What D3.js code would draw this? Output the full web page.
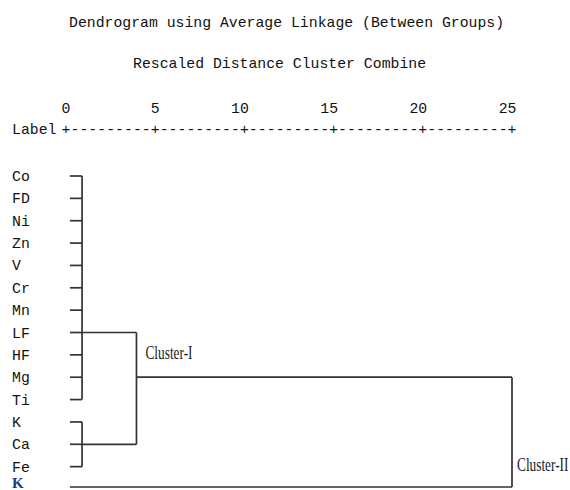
<!DOCTYPE html>
<html>
<head>
<meta charset="utf-8">
<script src="https://cdn.jsdelivr.net/npm/d3@7"></script>
<style>
  html, body { margin: 0; padding: 0; background: #fff; }
  svg { display: block; }
  .mono { font-family: "Liberation Mono", "Courier New", monospace; font-size: 14.8px; fill: #111; }
  .serif { font-family: "Liberation Serif", "Times New Roman", serif; }
</style>
</head>
<body>
<svg id="chart" width="570" height="490"></svg>
<script>
// ---- data ----
const title = "Dendrogram using Average Linkage (Between Groups)";
const subtitle = "Rescaled Distance Cluster Combine";
const leafLabels = ["Co","FD","Ni","Zn","V","Cr","Mn","LF","HF","Mg","Ti","K","Ca","Fe"];
const extraLeaf = "K";                 // last (highlighted) leaf, row 14
const tickValues = [0, 5, 10, 15, 20, 25];
const leafStart = 0.22;                // where leaf stubs begin (rescaled distance)
// clusters: member rows, merge distance, row where the output line leaves
const groupAMembers = [0,1,2,3,4,5,6,7,8,9,10];
const groupBMembers = [11,12,13];
const mergeDistA = 0.9, outRowA = 7;
const mergeDistB = 0.9, outRowB = 12;
const mergeDistAB = 3.95, outRowAB = 9;
const mergeDistFinal = 25, extraRow = 14;
const clusterLabels = ["Cluster-I", "Cluster-II"];

// ---- scales ----
const svg = d3.select("#chart");
svg.append("rect").attr("width", 570).attr("height", 490).attr("fill", "#fff");
const x = d3.scaleLinear().domain([0, 25]).range([66, 512]);
const y = d3.scaleLinear().domain([0, 14]).range([176, 489]);
const charW = (x(25) - x(0)) / 50;

// ---- titles ----
svg.append("text").attr("class", "mono").attr("x", 69).attr("y", 27).text(title);
svg.append("text").attr("class", "mono").attr("x", 133).attr("y", 68).text(subtitle);

// ---- textual axis ----
svg.selectAll("text.tick").data(tickValues).join("text")
  .attr("class", "mono tick")
  .attr("text-anchor", "end")
  .attr("x", d => x(d) + charW / 2)
  .attr("y", 113)
  .text(d => d);
svg.append("text").attr("class", "mono").attr("x", 12).attr("y", 134).text("Label");
const axisChars = [];
for (let v = 0; v <= 25; v += 0.5) axisChars.push({ v, c: (v % 5 === 0) ? "+" : "-" });
svg.selectAll("text.axc").data(axisChars).join("text")
  .attr("class", "mono axc")
  .attr("text-anchor", "middle")
  .attr("x", d => x(d.v))
  .attr("y", 134)
  .text(d => d.c);

// ---- leaf labels ----
svg.selectAll("text.leaf").data(leafLabels).join("text")
  .attr("class", "mono leaf")
  .attr("x", 12)
  .attr("y", (d, i) => y(i) + 5)
  .text(d => d);
svg.append("text").attr("class", "serif")
  .attr("x", 12).attr("y", y(extraRow) - 1)
  .attr("font-size", 15).attr("font-weight", "bold").attr("fill", "#1d3b87")
  .text(extraLeaf);

// ---- tree lines ----
const g = svg.append("g").attr("stroke", "#333").attr("stroke-width", 1.7).attr("fill", "none");
function seg(x1, y1, x2, y2) {
  g.append("line").attr("x1", x1).attr("y1", y1).attr("x2", x2).attr("y2", y2);
}
// leaf stubs
groupAMembers.forEach(i => seg(x(leafStart), y(i), x(mergeDistA), y(i)));
groupBMembers.forEach(i => seg(x(leafStart), y(i), x(mergeDistB), y(i)));
// group verticals
seg(x(mergeDistA), y(d3.min(groupAMembers)), x(mergeDistA), y(d3.max(groupAMembers)));
seg(x(mergeDistB), y(d3.min(groupBMembers)), x(mergeDistB), y(d3.max(groupBMembers)));
// outputs to AB merge
seg(x(mergeDistA), y(outRowA), x(mergeDistAB), y(outRowA));
seg(x(mergeDistB), y(outRowB), x(mergeDistAB), y(outRowB));
seg(x(mergeDistAB), y(outRowA), x(mergeDistAB), y(outRowB));
// AB output to final merge
seg(x(mergeDistAB), y(outRowAB), x(mergeDistFinal), y(outRowAB));
// extra leaf
seg(x(leafStart), y(extraRow) - 2, x(mergeDistFinal), y(extraRow) - 2);
seg(x(mergeDistFinal), y(outRowAB), x(mergeDistFinal), y(extraRow) - 2);

// ---- cluster labels ----
function clusterText(label, px, py) {
  svg.append("text").attr("class", "serif")
    .attr("font-size", 18.5).attr("fill", "#1a1a2a")
    .attr("transform", `translate(${px},${py}) scale(0.72,1)`)
    .text(label);
}
clusterText(clusterLabels[0], x(mergeDistAB) + 9, y(8) + 4);
clusterText(clusterLabels[1], x(mergeDistFinal) + 5, y(13) + 4);
</script>
</body>
</html>
